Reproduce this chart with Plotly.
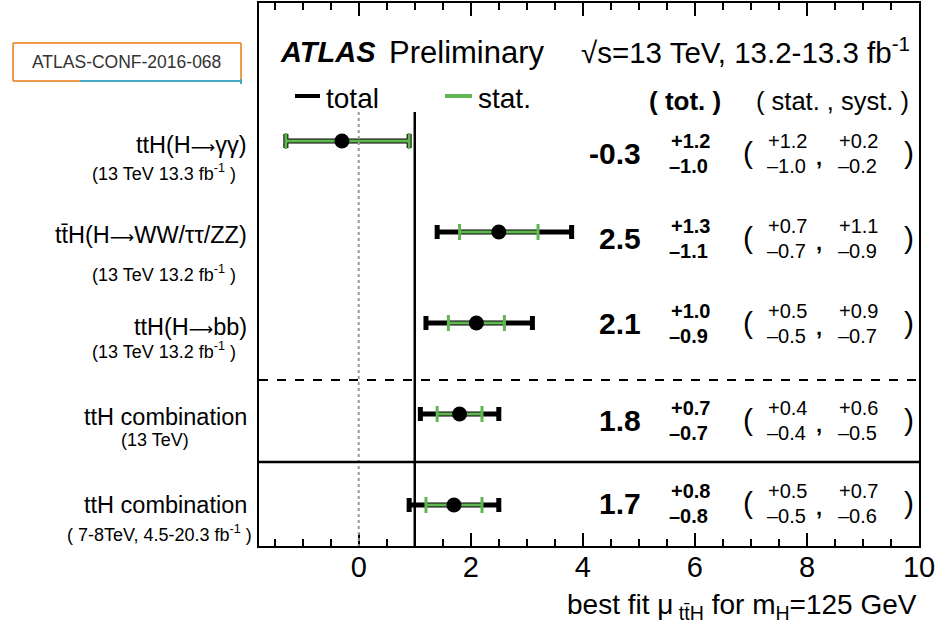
import plotly.graph_objects as go

# --- measurements (signal strength mu_ttH) ---
ARROW = "<span style='font-family:DejaVu Sans;font-size:17px'>⟶</span>"
channels = ["ttH(H" + ARROW + "γγ)", "tt̄H(H" + ARROW + "WW/ττ/ZZ)", "ttH(H" + ARROW + "bb)",
            "ttH combination", "ttH combination"]
sublabels = ["(13 TeV 13.3 fb<sup>-1</sup> )", "(13 TeV 13.2 fb<sup>-1</sup> )",
             "(13 TeV 13.2 fb<sup>-1</sup> )", "(13 TeV)", "( 7-8TeV, 4.5-20.3 fb<sup>-1</sup> )"]
mu = [-0.3, 2.5, 2.1, 1.8, 1.7]
tot_up = [1.2, 1.3, 1.0, 0.7, 0.8]
tot_dn = [1.0, 1.1, 0.9, 0.7, 0.8]
stat_up = [1.2, 0.7, 0.5, 0.4, 0.5]
stat_dn = [1.0, 0.7, 0.5, 0.4, 0.5]
syst_up = [0.2, 1.1, 0.9, 0.6, 0.7]
syst_dn = [0.2, 0.9, 0.7, 0.5, 0.6]
rows = [0, 1, 2, 3, 4]

x_ticks = [0, 2, 4, 6, 8, 10]

BLACK = "black"
GREEN = "rgb(96,182,80)"
FONT = "Liberation Sans, Arial, Helvetica, sans-serif"

# figure geometry (pixels)
W, H = 939, 640
ML, MR, MT, MB = 259, 20, 3, 94
X_RANGE = [-1.78, 10.0]
ROW_PX = 91.0           # pixels per row unit
ROW0_PX = 141.0         # pixel y of first row
Y_TOP = (MT - ROW0_PX) / ROW_PX
Y_BOT = (H - MB - ROW0_PX) / ROW_PX
PX_PER_X = (W - ML - MR) / (X_RANGE[1] - X_RANGE[0])
PLOT_H = H - MT - MB


def xd(px):
    """pixel x -> data x"""
    return X_RANGE[0] + (px - ML) / PX_PER_X


def yd(py):
    """pixel y -> data y"""
    return (py - ROW0_PX) / ROW_PX


def xp(px):
    """pixel x -> paper x"""
    return (px - ML) / (W - ML - MR)


def yp(py):
    """pixel y -> paper y"""
    return 1 - (py - MT) / PLOT_H


fig = go.Figure()

# total uncertainty
fig.add_trace(go.Scatter(
    x=mu, y=rows, mode="markers",
    marker=dict(size=1, color="rgba(0,0,0,0)"),
    error_x=dict(type="data", symmetric=False, array=tot_up, arrayminus=tot_dn,
                 color=BLACK, thickness=5, width=7),
    showlegend=False, hoverinfo="skip"))

# statistical uncertainty
fig.add_trace(go.Scatter(
    x=mu, y=rows, mode="markers",
    marker=dict(size=1, color="rgba(0,0,0,0)"),
    error_x=dict(type="data", symmetric=False, array=stat_up, arrayminus=stat_dn,
                 color=GREEN, thickness=3, width=8),
    showlegend=False, hoverinfo="skip"))

# central values
fig.add_trace(go.Scatter(
    x=mu, y=rows, mode="markers",
    marker=dict(size=15, color=BLACK),
    showlegend=False, hoverinfo="skip"))

shapes = []
# SM expectation and mu = 0 reference
shapes.append(dict(type="line", xref="x", yref="y", x0=1, x1=1, y0=yd(112), y1=Y_BOT,
                   line=dict(color=BLACK, width=2.5)))
shapes.append(dict(type="line", xref="x", yref="y", x0=0, x1=0, y0=yd(112), y1=Y_BOT,
                   line=dict(color="#9a9a9a", width=2, dash="dot")))
# separators between groups
shapes.append(dict(type="line", xref="paper", yref="y", x0=0, x1=1, y0=yd(380), y1=yd(380),
                   line=dict(color=BLACK, width=2, dash="dash")))
shapes.append(dict(type="line", xref="paper", yref="y", x0=0, x1=1, y0=yd(462), y1=yd(462),
                   line=dict(color=BLACK, width=2.5)))
# legend swatches
shapes.append(dict(type="line", xref="x", yref="y", x0=xd(295), x1=xd(320), y0=yd(96), y1=yd(96),
                   line=dict(color=BLACK, width=4)))
shapes.append(dict(type="line", xref="x", yref="y", x0=xd(445), x1=xd(472), y0=yd(96), y1=yd(96),
                   line=dict(color=GREEN, width=4)))
# conference-note tag box
ORANGE = "rgb(240,155,75)"
TEAL = "rgb(70,168,195)"
shapes.append(dict(type="line", xref="paper", yref="paper", x0=xp(13), x1=xp(241),
                   y0=yp(43), y1=yp(43), line=dict(color=ORANGE, width=2)))
for x0, x1, col in [(13, 80, ORANGE), (80, 241, TEAL)]:
    shapes.append(dict(type="line", xref="paper", yref="paper", x0=xp(x0), x1=xp(x1),
                       y0=yp(81), y1=yp(81), line=dict(color=col, width=2)))
for xx in [13, 241]:
    shapes.append(dict(type="line", xref="paper", yref="paper", x0=xp(xx), x1=xp(xx),
                       y0=yp(43), y1=yp(81), line=dict(color=ORANGE, width=2)))
shapes.append(dict(type="line", xref="paper", yref="paper", x0=xp(241), x1=xp(241),
                   y0=yp(79), y1=yp(84), line=dict(color=TEAL, width=2)))

ann = []


def text(x, y, s, size, anchor="left", xref="x", color=BLACK, bold=False, italic=False):
    if italic:
        s = "<i>" + s + "</i>"
    if bold:
        s = "<b>" + s + "</b>"
    ann.append(dict(x=x, y=y, xref=xref, yref="y", text=s, showarrow=False,
                    xanchor=anchor, yanchor="middle",
                    font=dict(family=FONT, size=size, color=color)))


# header
text(xd(278), yd(52), "ATLAS", 29, bold=True, italic=True)
text(xd(387), yd(52), "Preliminary", 31)
text(xd(912), yd(50), "√s=13 TeV, 13.2-13.3 fb<sup>-1</sup>", 29.5, anchor="right")
text(xd(324), yd(98), "total", 28)
text(xd(476), yd(98), "stat.", 28)
text(xd(647), yd(101), "( tot. )", 26, bold=True)
text(xd(911), yd(101), "( stat. , syst. )", 25.5, anchor="right")

# channel labels on the left
main_y = [145, 235, 327, 417, 505]
sub_y = [172, 273, 350, 440, 533]
sub_x = [164, 164, 164, 155, 159]
for i in rows:
    text(xp(249), yd(main_y[i]), channels[i], 23.5, anchor="right", xref="paper")
    text(xp(sub_x[i]), yd(sub_y[i]), sublabels[i], 18, anchor="center", xref="paper")

# numeric table on the right
val_y = [153, 238, 323, 420, 503]


def fmt(v):
    return f"{v:.1f}"


for i in rows:
    yc = val_y[i]
    text(xd(643), yd(yc), fmt(mu[i]), 30, anchor="right", bold=True)
    text(xd(669), yd(yc - 12), "+" + fmt(tot_up[i]), 20, bold=True)
    text(xd(667), yd(yc + 13), "–" + fmt(tot_dn[i]), 20, bold=True)
    text(xd(748), yd(yc - 1), "(", 30, anchor="center")
    text(xd(766), yd(yc - 12), "+" + fmt(stat_up[i]), 20)
    text(xd(765), yd(yc + 13), "–" + fmt(stat_dn[i]), 20)
    text(xd(819), yd(yc + 4), ",", 22, anchor="center", bold=True)
    text(xd(837), yd(yc - 12), "+" + fmt(syst_up[i]), 20)
    text(xd(836), yd(yc + 13), "–" + fmt(syst_dn[i]), 20)
    text(xd(909), yd(yc - 1), ")", 30, anchor="center")

# conference note tag
ann.append(dict(x=xp(126), y=yp(62), xref="paper", yref="paper",
                text="ATLAS-CONF-2016-068", showarrow=False, xanchor="center", yanchor="middle",
                font=dict(family=FONT, size=17.5, color="#333333")))

# x-axis title
ann.append(dict(x=1, y=yp(606), xref="paper", yref="paper",
                text="best fit μ<sub> tt̄H</sub> for m<sub>H</sub>=125 GeV", showarrow=False,
                xanchor="right", yanchor="middle",
                font=dict(family=FONT, size=28, color=BLACK)))

fig.update_layout(
    width=W, height=H,
    margin=dict(l=ML, r=MR, t=MT, b=MB, autoexpand=False),
    paper_bgcolor="white", plot_bgcolor="white",
    shapes=shapes, annotations=ann,
    xaxis=dict(range=X_RANGE, tickvals=x_ticks, ticktext=[str(t) for t in x_ticks],
               ticks="inside", ticklen=13, tickwidth=1.5, tickcolor=BLACK,
               minor=dict(dtick=0.5, tick0=0, ticks="inside", ticklen=7, tickwidth=1.5,
                          tickcolor=BLACK, showgrid=False),
               showline=True, linecolor=BLACK, linewidth=2, mirror="ticks",
               showgrid=False, zeroline=False, ticklabelstandoff=-6,
               tickfont=dict(family=FONT, size=29, color=BLACK)),
    yaxis=dict(range=[Y_BOT, Y_TOP], showticklabels=False, ticks="",
               showline=True, linecolor=BLACK, linewidth=2, mirror=True,
               showgrid=False, zeroline=False),
)

fig.write_html("out.html")
